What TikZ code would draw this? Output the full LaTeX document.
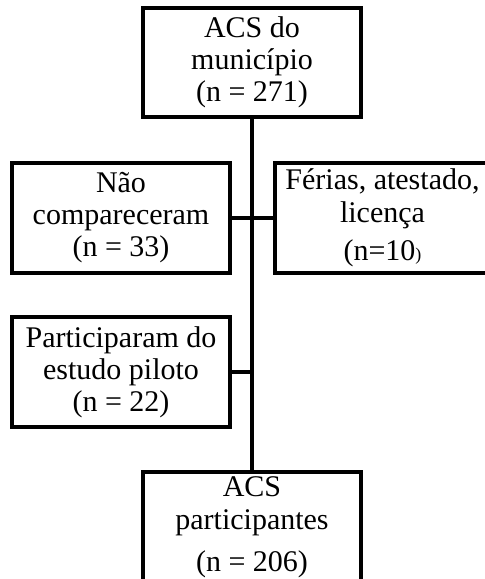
\documentclass[tikz,border=0pt]{standalone}
\usepackage{fontspec}
\setmainfont{Liberation Serif}
\begin{document}
\begin{tikzpicture}[x=1pt,y=-1pt,
  box/.style={draw, line width=3.1pt, minimum width=218pt, minimum height=110pt,
    inner sep=0pt, align=center, font=\fontsize{30}{32}\selectfont},
  link/.style={line width=3.1pt}]
\useasboundingbox (0,0) rectangle (485,579);
\clip (0,0) rectangle (485,579);
\fill[white] (0,0) rectangle (485,579);
\node[box, minimum height=109pt] (top) at (252,62.5) {ACS do\\município\\(n = 271)};
\node[box] (nao) at (121,218) {Não\\compareceram\\(n = 33)};
\node[box, minimum width=215pt] (ferias) at (382.5,218) {Férias, atestado,\\[1pt]licença\\[6pt](n=10{\fontsize{18}{18}\selectfont)}};
\node[box] (part) at (121,372) {Participaram do\\estudo piloto\\(n = 22)};
\node[box] (acs) at (252,527) {ACS\\[1pt]participantes\\[10pt](n = 206)};
\coordinate (j) at (top.south |- part.east);
\draw[link] (top.south) -- (acs.north);
\draw[link] (nao.east) -- (ferias.west);
\draw[link] (part.east) -- (j);
\end{tikzpicture}
\end{document}
